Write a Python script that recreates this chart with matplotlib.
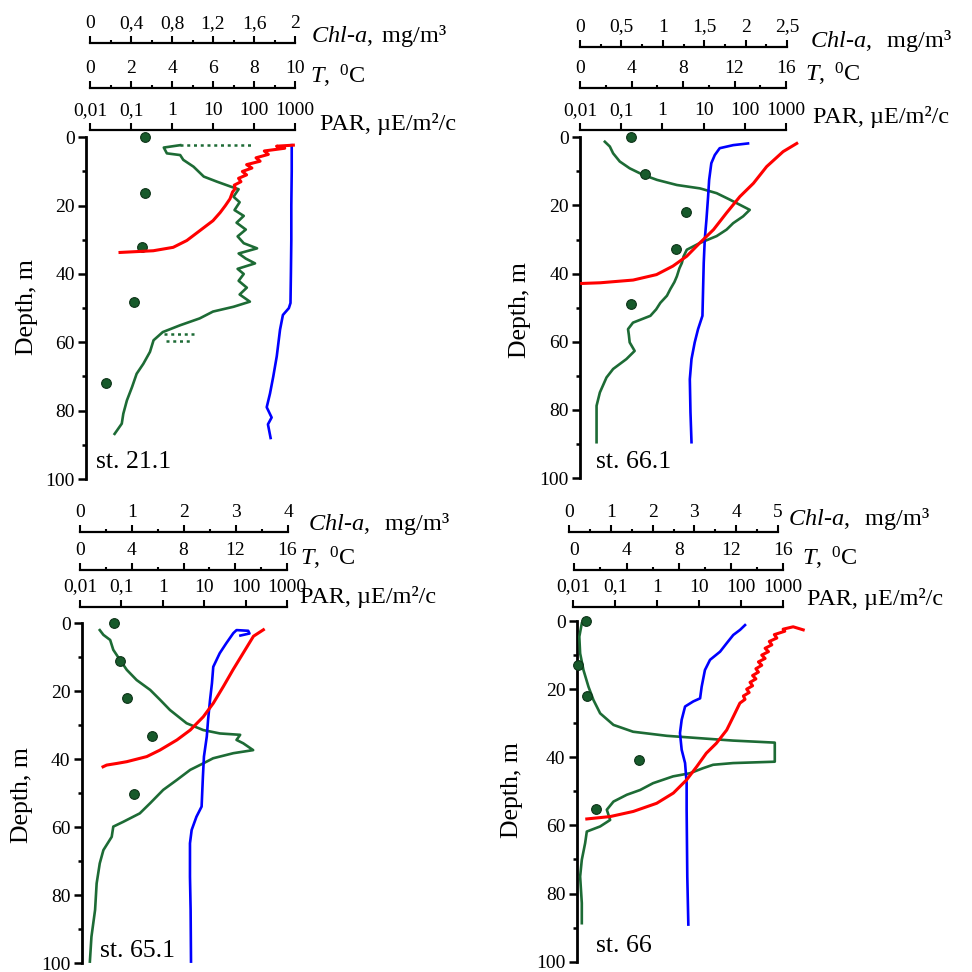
import matplotlib
matplotlib.use("Agg")
import matplotlib.pyplot as plt

plt.rcParams['font.family'] = ['Liberation Serif', 'DejaVu Serif']
plt.rcParams['mathtext.fontset'] = 'custom'
plt.rcParams['mathtext.rm'] = 'Liberation Serif'
plt.rcParams['mathtext.it'] = 'Liberation Serif:italic'

GREEN = '#1d6b35'
DOT = '#175a2b'
BLUE = '#0000ff'
RED = '#ff0000'

# ---- st. 21.1 ----
a_chl_d = [2.3, 3.0, 4.7, 5.2, 6.6, 8.6, 11.5, 13.0, 14.4, 15.2, 17.4, 19, 21.3, 23, 25, 27, 29, 31, 32.5, 34,
           35.5, 36.9, 38.5, 40, 42, 44, 46, 48.1, 49.6, 51, 53, 55, 57, 59.4, 62.8, 66.3, 69.2, 73.1, 77, 80.9,
           83.8, 86.8]
a_chl = [0.88, 0.72, 0.75, 0.88, 0.91, 1.01, 1.11, 1.24, 1.37, 1.45, 1.40, 1.46, 1.41, 1.50, 1.43, 1.52, 1.44,
         1.50, 1.63, 1.45, 1.52, 1.61, 1.44, 1.50, 1.45, 1.53, 1.46, 1.56, 1.40, 1.20, 1.07, 0.88, 0.71, 0.62,
         0.585, 0.52, 0.455, 0.41, 0.36, 0.325, 0.31, 0.24]
a_gap_d = [[2.3, 2.3], [57.6, 57.6], [59.6, 59.6]]
a_gap_chl = [[0.88, 1.60], [0.72, 1.03], [0.74, 0.99]]
a_t_d = [2.3, 10, 20, 30, 40, 48.5, 50, 52, 56.3, 64.1, 70, 75, 79, 82, 84, 88]
a_t = [9.84, 9.84, 9.82, 9.82, 9.80, 9.78, 9.7, 9.41, 9.27, 9.11, 8.94, 8.78, 8.62, 8.86, 8.68, 8.81]
a_par_d = [2.3, 2.6, 3.2, 4, 5, 6, 7, 8, 9, 10, 11, 12, 13, 14, 15, 16, 18, 20, 22, 24.4, 27.3, 30.2, 32.2,
           33.2, 33.7]
a_par = [912, 355, 562, 178, 224, 112, 141, 66, 89, 52, 66, 42, 48, 33, 35, 30, 26, 20, 15, 10, 4.8, 2.3, 1.07,
         0.35, 0.054]
a_dot_d = [0, 16.2, 32, 48.1, 71.9]
a_dot = [0.54, 0.54, 0.51, 0.43, 0.156]

# ---- st. 66.1 ----
b_chl_d = [1.3, 2.7, 4.7, 7.1, 9.1, 11, 12.5, 14, 15, 16.4, 18.3, 19.8, 21.3, 23.2, 25.2, 27.1, 29, 31, 33, 35,
           36.9, 38.5, 40.8, 42.5, 44.6, 46.5, 48.6, 50.5, 52.4, 54.4, 56.3, 58, 60.2, 62.7, 65.1, 68, 70.5, 74.9,
           78.8, 83.7, 89.5]
b_chl = [0.30, 0.36, 0.40, 0.48, 0.60, 0.76, 0.93, 1.17, 1.45, 1.65, 1.81, 1.93, 2.05, 1.97, 1.85, 1.77, 1.65,
         1.45, 1.29, 1.25, 1.23, 1.20, 1.17, 1.14, 1.09, 1.05, 0.97, 0.92, 0.85, 0.64, 0.58, 0.59, 0.60, 0.66, 0.56,
         0.40, 0.32, 0.24, 0.20, 0.20, 0.20]
b_t_d = [1.8, 2.3, 3.2, 5.2, 7.6, 12.5, 17.4, 24.2, 30, 36.9, 44.6, 52.4, 56.3, 60.2, 65.1, 71, 80.7, 89.5]
b_t = [13.05, 11.9, 10.85, 10.47, 10.2, 10.03, 9.95, 9.82, 9.69, 9.61, 9.56, 9.51, 9.17, 8.91, 8.66, 8.53, 8.58,
       8.66]
b_par_d = [1.8, 4.2, 8.6, 13.5, 17.4, 22.2, 27.1, 31, 34.9, 37.8, 40.3, 41.9, 42.7, 42.9]
b_par = [1820, 851, 339, 162, 76, 36, 17.4, 8.1, 3.9, 1.8, 0.72, 0.195, 0.031, 0.011]
b_dot_d = [0, 10.8, 21.9, 32.9, 48.9]
b_dot = [0.62, 0.79, 1.28, 1.16, 0.62]

# ---- st. 65.1 ----
c_chl_d = [2.0, 3.4, 4.9, 7.8, 10.8, 13.7, 16.7, 19.6, 22.5, 25.5, 29.4, 31.4, 32.4, 32.8, 34.3, 35.3, 37.3,
           38.2, 39.7, 41.2, 43.1, 46.1, 49, 52.9, 55.9, 58.4, 59.8, 62.8, 66.7, 70.6, 76.5, 84.3, 92.2, 99.5]
c_chl = [0.38, 0.45, 0.58, 0.64, 0.77, 0.90, 1.09, 1.35, 1.54, 1.73, 2.05, 2.37, 2.69, 3.08, 3.01, 3.14, 3.33,
         2.95, 2.56, 2.37, 2.12, 1.86, 1.60, 1.35, 1.15, 0.83, 0.64, 0.61, 0.45, 0.38, 0.32, 0.29, 0.22, 0.19]
c_t_d = [3.6, 3.0, 2.2, 2.0, 2.9, 5.9, 8.8, 12.8, 17.6, 22.6, 28.4, 33.3, 39.2, 45.1, 53.9, 56.9, 60.8, 64.7,
         74.5, 84.3, 99.5]
c_t = [12.4, 13.1, 13.0, 12.1, 11.85, 11.3, 10.8, 10.3, 10.2, 10.05, 9.9, 9.8, 9.58, 9.5, 9.4, 9.0, 8.63, 8.5,
       8.5, 8.55, 8.58]
c_par_d = [1.9, 3.8, 8.8, 13.6, 18.6, 23.5, 27.5, 31.4, 34.3, 37.3, 39.2, 40.7, 41.2, 41.7, 42.2]
c_par = [269, 155, 87, 50, 29, 16.6, 9.5, 4.6, 2.2, 0.85, 0.41, 0.135, 0.079, 0.044, 0.036]
c_dot_d = [0, 11, 22, 33.1, 50.2]
c_dot = [0.66, 0.77, 0.91, 1.38, 1.04]

# ---- st. 66 ----
d_chl_d = [0.7, 4.6, 9.5, 14.4, 19.3, 23.2, 27.1, 30.5, 32.5, 33.7, 34.4, 35.1, 35.7, 41.3, 41.7, 42.2, 43.2,
           44.7, 45.6, 47.6, 49.6, 51, 53, 55.4, 58.4, 60.3, 61.8, 65.2, 70.1, 75, 82.8, 88.7]
d_chl = [0.30, 0.24, 0.26, 0.34, 0.46, 0.58, 0.74, 1.06, 1.53, 2.34, 3.13, 3.93, 4.93, 4.93, 3.93, 3.45, 3.21,
         2.89, 2.49, 2.01, 1.70, 1.38, 1.06, 0.90, 0.98, 0.74, 0.42, 0.38, 0.30, 0.26, 0.30, 0.30]
d_t_d = [1.2, 2.6, 4.1, 6.5, 9, 11.4, 14.4, 19.3, 22.7, 23.6, 25.1, 29, 32.9, 37.8, 41.7, 47.6, 55.4, 75, 89.1]
d_t = [13.07, 12.69, 12.17, 11.67, 11.16, 10.39, 10.0, 9.75, 9.63, 9.11, 8.48, 8.22, 8.09, 8.22, 8.48, 8.6, 8.6,
       8.65, 8.73]
d_par_d = [2.6, 1.7, 2.4, 3.0, 4, 5, 6, 7, 8, 9, 10, 11, 12, 13, 14, 15, 16, 17, 18, 19, 20, 21, 22, 23, 24.1,
           28.1, 32, 35.9, 38.8, 42.7, 46.6, 50.5, 53.5, 55.9, 57.4, 58.1]
d_par = [3090, 1778, 1023, 1122, 631, 724, 479, 550, 380, 457, 316, 380, 263, 316, 229, 263, 191, 229, 166, 191,
         138, 158, 115, 126, 95, 66, 46, 26, 15, 8.9, 5.1, 2.45, 0.98, 0.27, 0.076, 0.021]
d_dot_d = [0, 12.9, 21.9, 40.9, 55.1]
d_dot = [0.40, 0.21, 0.43, 1.68, 0.63]

# scale tick labels
par_ticks = [0.01, 0.1, 1, 10, 100, 1000]
par_labels = ['0,01', '0,1', '1', '10', '100', '1000']
depth_ticks = [0, 20, 40, 60, 80, 100]

W = 972.0
fig = plt.figure(figsize=(9.72, 9.72), dpi=100)


def scale_axes(x0, x1, yl, d0, d100):
    """axes whose top spine is a scale bar and whose y range is depth"""
    px_m = (d100 - d0) / 100.0
    ax = fig.add_axes([x0 / W, 1 - d100 / W, (x1 - x0) / W, (d100 - yl) / W])
    ax.set_ylim(100, -(d0 - yl) / px_m)
    ax.patch.set_visible(False)
    for s in ['left', 'right', 'bottom']:
        ax.spines[s].set_visible(False)
    ax.spines['top'].set_linewidth(1.6)
    ax.xaxis.tick_top()
    ax.set_yticks([])
    ax.tick_params(axis='x', which='major', direction='out', length=5, width=1.5, pad=3, labelsize=14)
    ax.tick_params(axis='x', which='minor', direction='out', length=2.5, width=1.5)
    return ax


def panel(p):
    d0, d100 = p['d0'], p['d100']
    # depth axis
    ad = fig.add_axes([p['spine'] / W, 1 - d100 / W, 0.01, (d100 - d0) / W])
    ad.set_ylim(100, 0)
    ad.patch.set_visible(False)
    for s in ['right', 'top', 'bottom']:
        ad.spines[s].set_visible(False)
    ad.spines['left'].set_linewidth(2)
    ad.set_xticks([])
    ad.set_yticks(depth_ticks)
    ad.set_yticks([10, 30, 50, 70, 90], minor=True)
    ad.tick_params(axis='y', which='major', length=6, width=1.8, pad=2, labelsize=14)
    ad.tick_params(axis='y', which='minor', length=3, width=1.8)

    # chlorophyll scale
    x0, x1, yl = p['chl_ax']
    ac = scale_axes(x0, x1, yl, d0, d100)
    ac.set_xlim(0, p['chl_max'])
    ac.set_xticks(p['chl_ticks'], labels=p['chl_labels'])
    ac.set_xticks(p['chl_minor'], minor=True)

    # temperature scale
    x0, x1, yl = p['t_ax']
    at = scale_axes(x0, x1, yl, d0, d100)
    at.set_xlim(0, p['t_max'])
    at.set_xticks(p['t_ticks'])
    at.set_xticks(p['t_minor'], minor=True)

    # PAR scale
    x0, x1, yl = p['par_ax']
    ap = scale_axes(x0, x1, yl, d0, d100)
    ap.set_xscale('log')
    ap.set_xlim(0.01, 1000)
    ap.set_xticks(par_ticks, labels=par_labels)
    ap.xaxis.set_minor_locator(matplotlib.ticker.NullLocator())

    ac.plot(p['chl'], p['chl_d'], color=GREEN, lw=1.9, zorder=2, clip_on=False)
    for gx, gy in zip(p.get('gap_chl', []), p.get('gap_d', [])):
        ac.plot(gx, gy, color=GREEN, lw=1.8, ls=(0, (1.2, 1.5)), zorder=2, clip_on=False)
    ap.plot(p['par'], p['par_d'], color=RED, lw=2.2, zorder=3, clip_on=False)
    at.plot(p['t'], p['t_d'], color=BLUE, lw=1.9, zorder=3, clip_on=False)
    ac.plot(p['dot'], p['dot_d'], 'o', color=DOT, mec='#0d3318', mew=0.8, ms=7, zorder=5, clip_on=False)

    # axis titles
    for key, txt in [('chl_lbl', p['chl_text']), ('t_lbl', r'$\mathit{T,}$ $^0$C'),
                     ('par_lbl', 'PAR, µE/m²/c')]:
        x, y = p[key]
        fig.text(x / W, 1 - y / W, txt, fontsize=17.5, va='baseline', ha='left')
    x, y = p['depth_lbl']
    fig.text(x / W, 1 - y / W, 'Depth, m', fontsize=18.5, rotation=90, ha='center', va='center')
    x, y = p['st_pos']
    fig.text(x / W, 1 - y / W, p['st'], fontsize=18.5, ha='left', va='center')


panels = [
    dict(spine=86, d0=137.3, d100=479, chl_ax=(90, 295, 43.3), t_ax=(90, 295, 88.3), par_ax=(90, 295, 130),
         chl_max=2, chl_ticks=[0, 0.4, 0.8, 1.2, 1.6, 2], chl_labels=['0', '0,4', '0,8', '1,2', '1,6', '2'],
         chl_minor=[0.2, 0.6, 1.0, 1.4, 1.8], t_max=10, t_ticks=[0, 2, 4, 6, 8, 10], t_minor=[1, 3, 5, 7, 9],
         chl=a_chl, chl_d=a_chl_d, gap_chl=a_gap_chl, gap_d=a_gap_d, t=a_t, t_d=a_t_d, par=a_par, par_d=a_par_d,
         dot=a_dot, dot_d=a_dot_d, chl_text=r'$\mathit{Chl}$-$\mathit{a,}$ mg/m³',
         chl_lbl=(311, 42), t_lbl=(310, 83), par_lbl=(320, 130), depth_lbl=(27, 307), st='st. 21.1',
         st_pos=(96, 462)),
    dict(spine=580, d0=137.3, d100=478, chl_ax=(580, 787, 46.7), t_ax=(580, 786, 88), par_ax=(580, 786, 130),
         chl_max=2.5, chl_ticks=[0, 0.5, 1, 1.5, 2, 2.5], chl_labels=['0', '0,5', '1', '1,5', '2', '2,5'],
         chl_minor=[0.25, 0.75, 1.25, 1.75, 2.25], t_max=16, t_ticks=[0, 4, 8, 12, 16], t_minor=[2, 6, 10, 14],
         chl=b_chl, chl_d=b_chl_d, t=b_t, t_d=b_t_d, par=b_par, par_d=b_par_d, dot=b_dot, dot_d=b_dot_d,
         chl_text=r'$\mathit{Chl}$-$\mathit{a,}$  mg/m³',
         chl_lbl=(810, 47), t_lbl=(805, 82), par_lbl=(813, 123), depth_lbl=(520, 310), st='st. 66.1',
         st_pos=(596, 462)),
    dict(spine=81.7, d0=623.3, d100=963.3, chl_ax=(80, 288, 531.7), t_ax=(80, 287, 570), par_ax=(80, 287, 606.7),
         chl_max=4, chl_ticks=[0, 1, 2, 3, 4], chl_labels=['0', '1', '2', '3', '4'],
         chl_minor=[0.5, 1.5, 2.5, 3.5], t_max=16, t_ticks=[0, 4, 8, 12, 16], t_minor=[2, 6, 10, 14],
         chl=c_chl, chl_d=c_chl_d, t=c_t, t_d=c_t_d, par=c_par, par_d=c_par_d, dot=c_dot, dot_d=c_dot_d,
         chl_text=r'$\mathit{Chl}$-$\mathit{a,}$  mg/m³',
         chl_lbl=(308, 530), t_lbl=(300, 565), par_lbl=(300, 603), depth_lbl=(22, 795), st='st. 65.1',
         st_pos=(100, 951)),
    dict(spine=576.7, d0=621, d100=961.7, chl_ax=(569.3, 777.7, 531.7), t_ax=(574.3, 783.3, 570),
         par_ax=(573.3, 782.7, 606.7),
         chl_max=5, chl_ticks=[0, 1, 2, 3, 4, 5], chl_labels=['0', '1', '2', '3', '4', '5'],
         chl_minor=[0.5, 1.5, 2.5, 3.5, 4.5], t_max=16, t_ticks=[0, 4, 8, 12, 16], t_minor=[2, 6, 10, 14],
         chl=d_chl, chl_d=d_chl_d, t=d_t, t_d=d_t_d, par=d_par, par_d=d_par_d, dot=d_dot, dot_d=d_dot_d,
         chl_text=r'$\mathit{Chl}$-$\mathit{a,}$  mg/m³',
         chl_lbl=(788, 525), t_lbl=(802, 565), par_lbl=(807, 605), depth_lbl=(512, 790), st='st. 66',
         st_pos=(596, 946)),
]

for p in panels:
    panel(p)

plt.savefig('out.png', dpi=100)
